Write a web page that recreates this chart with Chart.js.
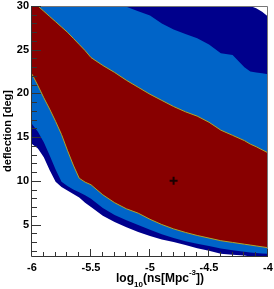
<!DOCTYPE html>
<html>
<head>
<meta charset="utf-8">
<script src="https://cdn.jsdelivr.net/npm/chart.js@4.4.0/dist/chart.umd.min.js"></script>
<style>
    html, body { margin: 0; padding: 0; background: #fff; }
    canvas { display: block; }
</style>
</head>
<body>
<canvas id="contour" width="274" height="289"></canvas>
<script>
// boundaries of the contour bands, sampled along log10(ns)
const xs       = [-6, -5.95, -5.9, -5.85, -5.8, -5.75, -5.7, -5.65, -5.6, -5.55, -5.5, -5.4, -5.3, -5.2, -5.1, -5.0, -4.9, -4.8, -4.7, -4.6, -4.5, -4.4, -4.3, -4.2, -4.15, -4.1, -4.05, -4.0];
const redLow   = [22.2, 20.9, 19.5, 18.2, 16.8, 15.3, 13.5, 11.8, 10.3, 9.85, 9.55, 8.4, 7.5, 6.8, 6.3, 5.6, 5.0, 4.5, 4.1, 3.75, 3.45, 3.15, 2.95, 2.75, 2.65, 2.55, 2.45, 2.35];
const redHigh  = [30, 30, 29.4, 28.8, 28.2, 27.6, 27.0, 26.3, 25.6, 24.9, 24.1, 23.2, 22.4, 21.5, 20.7, 19.9, 19.2, 18.5, 17.9, 17.4, 16.7, 15.8, 15.2, 14.6, 14.2, 13.9, 13.55, 13.2];
const blueLow  = [16.5, 15.6, 14.4, 12.9, 11.3, 9.9, 9.4, 9.0, 8.7, 8.35, 7.95, 6.9, 6.1, 5.5, 4.95, 4.4, 3.9, 3.45, 3.1, 2.8, 2.55, 2.25, 2.05, 1.9, 1.8, 1.75, 1.7, 1.65];
const blueHigh = [30, 30, 30, 30, 30, 30, 30, 30, 30, 30, 30, 30, 30, 29.9, 29.4, 28.9, 28.0, 27.3, 26.8, 26.3, 25.6, 24.6, 24.4, 23.0, 22.5, 22.4, 22.3, 22.2];
const navyLow  = [14.2, 13.7, 12.7, 11.2, 9.9, 9.3, 8.9, 8.5, 8.1, 7.5, 7.0, 6.0, 5.3, 4.7, 4.15, 3.7, 3.3, 3.0, 2.65, 2.3, 2.0, 1.65, 1.55, 1.45, 1.35, 1.2, 1.2, 1.2];
const navyHigh = [30, 30, 30, 30, 30, 30, 30, 30, 30, 30, 30, 30, 30, 30, 30, 30, 30, 30, 30, 30, 30, 30, 30, 30, 30, 29.75, 29.35, 28.8];

const bestFit = [{ x: -4.8, y: 10 }];

const xTicks = [-6, -5.5, -5, -4.5, -4];
const xTickLabels = ['-6', '-5.5', '-5', '-4.5', '-4'];
const yTicks = [5, 10, 15, 20, 25, 30];
const yTickLabels = ['5', '10', '15', '20', '25', '30'];

const RED = '#880000';
const BLUE = '#0064c8';
const NAVY = '#00008c';
const EDGE = 'rgb(175,165,40)';
const FONT = '"Liberation Sans", Arial, sans-serif';

const toPoints = ys => xs.map((x, i) => ({ x: x, y: ys[i] }));

function band(ys, color, order, fill, edge) {
    return {
        data: toPoints(ys),
        borderColor: edge || color,
        borderWidth: edge ? 1 : 0,
        backgroundColor: color,
        fill: fill,
        pointRadius: 0,
        tension: 0,
        order: order
    };
}

// frame, inside ticks and axis titles (ROOT style)
const axisDecor = {
    id: 'axisDecor',
    afterDraw(chart) {
        const { ctx, chartArea: a, scales: { x, y } } = chart;
        ctx.save();

        ctx.lineWidth = 1;
        ctx.strokeStyle = '#777';
        ctx.beginPath();
        ctx.moveTo(a.left, a.top + 0.5);
        ctx.lineTo(a.right - 0.5, a.top + 0.5);
        ctx.lineTo(a.right - 0.5, a.bottom);
        ctx.stroke();

        ctx.strokeStyle = '#333';
        ctx.beginPath();
        ctx.moveTo(a.left - 0.5, a.top);
        ctx.lineTo(a.left - 0.5, a.bottom + 0.5);
        ctx.lineTo(a.right, a.bottom + 0.5);
        ctx.stroke();

        ctx.beginPath();
        for (let v = 2; v <= 30; v++) {
            const py = Math.round(y.getPixelForValue(v)) + 0.5;
            const len = v % 5 === 0 ? 9 : 5;
            ctx.moveTo(a.left, py);
            ctx.lineTo(a.left + len, py);
        }
        for (let k = 0; k <= 20; k++) {
            const v = -6 + k * 0.1;
            const px = Math.round(x.getPixelForValue(v)) - 0.5;
            const len = k % 5 === 0 ? 7 : 4;
            ctx.moveTo(px, a.bottom);
            ctx.lineTo(px, a.bottom - len);
        }
        ctx.stroke();

        ctx.fillStyle = '#000';
        ctx.textBaseline = 'alphabetic';
        const parts = [
            { t: 'log', size: 12, dy: 0 },
            { t: '10', size: 8, dy: 5 },
            { t: '(ns[Mpc', size: 12, dy: 0 },
            { t: '-3', size: 8, dy: -7 },
            { t: '])', size: 12, dy: 0 }
        ];
        let total = 0;
        parts.forEach(p => {
            ctx.font = `bold ${p.size}px ${FONT}`;
            p.w = ctx.measureText(p.t).width;
            total += p.w;
        });
        let cx = 160 - total / 2;
        parts.forEach(p => {
            ctx.font = `bold ${p.size}px ${FONT}`;
            ctx.fillText(p.t, cx, 282 + p.dy);
            cx += p.w;
        });

        ctx.translate(8, (a.top + a.bottom) / 2);
        ctx.rotate(-Math.PI / 2);
        ctx.font = `bold 11px ${FONT}`;
        ctx.textAlign = 'center';
        ctx.textBaseline = 'middle';
        ctx.fillText('deflection [deg]', 0, 0);
        ctx.restore();
    }
};

new Chart(document.getElementById('contour'), {
    type: 'line',
    data: {
        datasets: [
            {
                data: bestFit,
                showLine: false,
                pointStyle: 'cross',
                pointRadius: 4,
                pointBorderWidth: 2,
                pointBorderColor: '#1a0000',
                order: 0
            },
            band(redLow, RED, 1, false, EDGE),
            band(redHigh, RED, 1, '-1', EDGE),
            band(blueLow, BLUE, 2, false),
            band(blueHigh, BLUE, 2, '-1'),
            band(navyLow, NAVY, 3, false),
            band(navyHigh, NAVY, 3, '-1')
        ]
    },
    options: {
        responsive: false,
        animation: false,
        devicePixelRatio: 1,
        layout: { padding: { top: 3, right: 5, left: 0, bottom: 0 } },
        plugins: { legend: { display: false }, tooltip: { enabled: false } },
        scales: {
            x: {
                type: 'linear',
                min: -6,
                max: -4,
                afterBuildTicks: s => { s.ticks = xTicks.map(v => ({ value: v })); },
                afterFit: s => { s.height = 33; s.paddingLeft = 0; s.paddingRight = 0; },
                grid: { display: false, drawTicks: false },
                border: { display: false },
                ticks: {
                    autoSkip: false,
                    maxRotation: 0,
                    padding: 5,
                    color: '#000',
                    font: { family: FONT, size: 11, weight: 'bold' },
                    callback: (v, i) => xTickLabels[i]
                }
            },
            y: {
                type: 'linear',
                min: 1.4,
                max: 30,
                afterBuildTicks: s => { s.ticks = yTicks.map(v => ({ value: v })); },
                afterFit: s => { s.width = 32; s.paddingTop = 0; s.paddingBottom = 0; },
                grid: { display: false, drawTicks: false },
                border: { display: false },
                ticks: {
                    padding: 3,
                    color: '#000',
                    font: { family: FONT, size: 11, weight: 'bold' },
                    callback: (v, i) => yTickLabels[i]
                }
            }
        }
    },
    plugins: [axisDecor]
});
</script>
</body>
</html>
